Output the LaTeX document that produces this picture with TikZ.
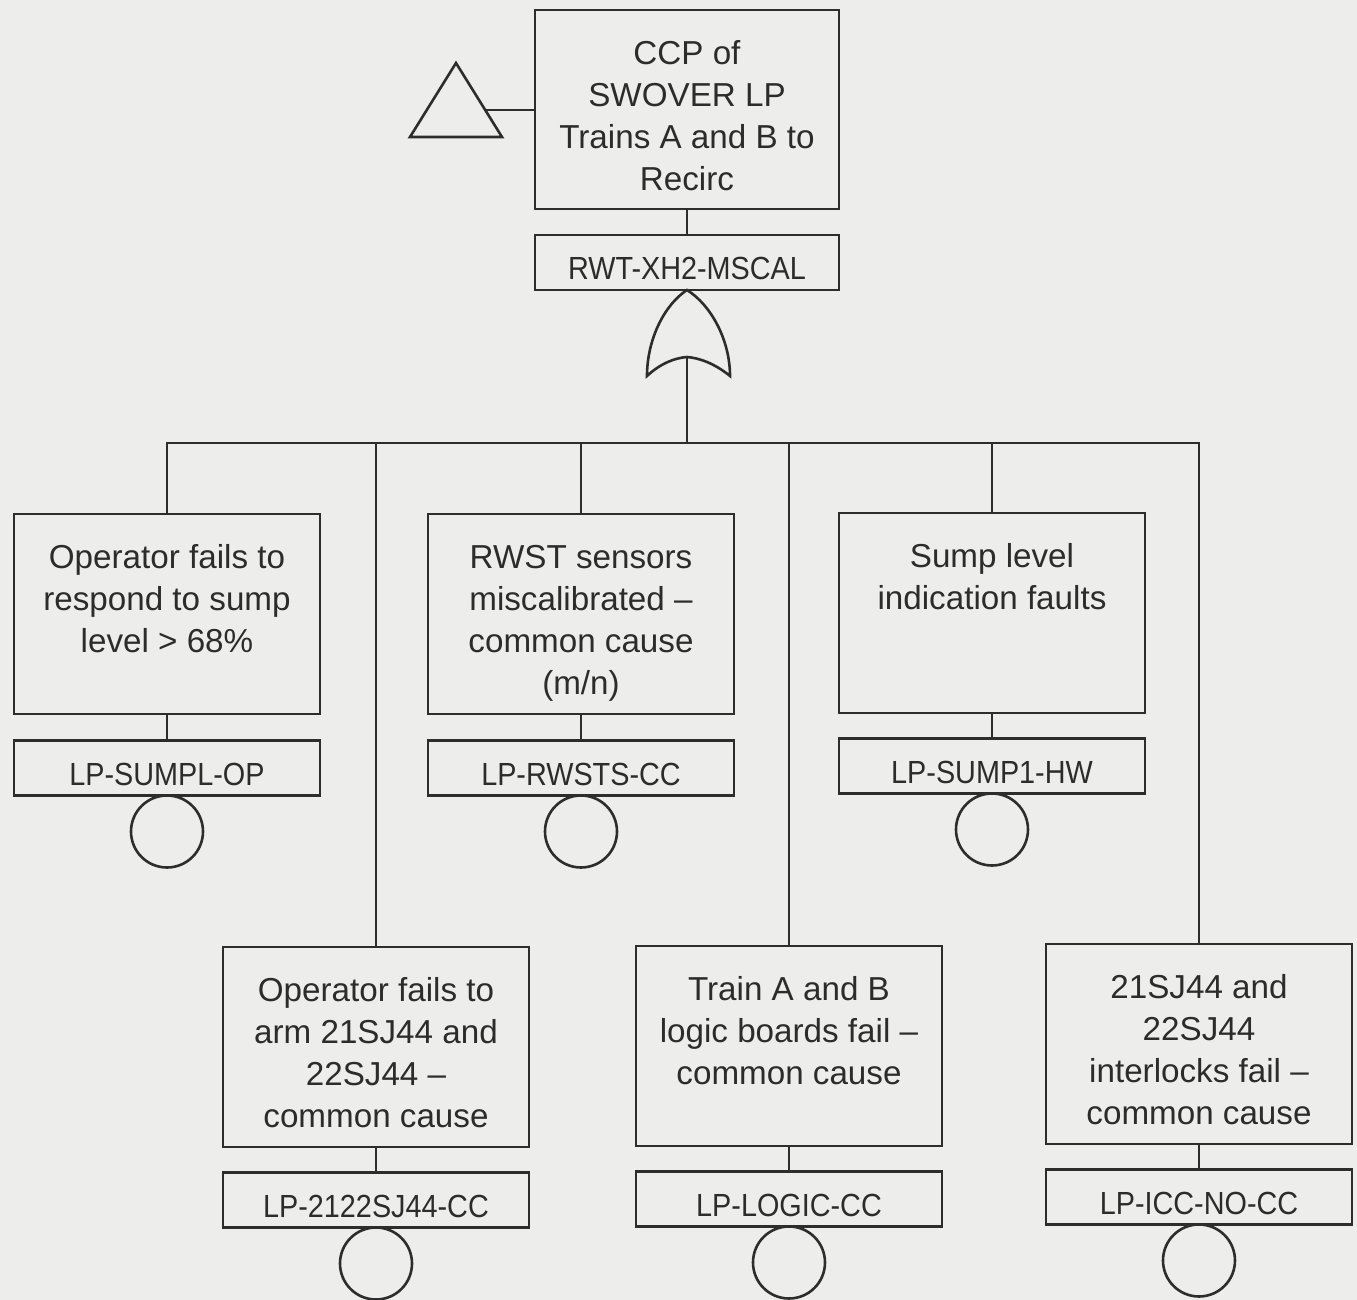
\documentclass[tikz,border=0pt]{standalone}
\usepackage{fontspec}
\setmainfont{Liberation Sans}
\newfontfamily\tagfam[FakeStretch=0.9]{Liberation Sans}
\definecolor{paper}{RGB}{237,237,235}
\definecolor{ink}{RGB}{45,45,45}
\definecolor{txt}{RGB}{44,44,44}
\newcommand\evfont{\fontsize{16.6pt}{21pt}\selectfont}
\newcommand\tagfont{\tagfam\fontsize{16pt}{19pt}\selectfont}
\newcommand\evstrut{\rule{0pt}{14pt}}
\tikzset{
  ln/.style={draw=ink, line width=1.3pt},
  evbox/.style={draw=ink, line width=1.3pt, minimum width=153pt, minimum height=100pt,
    inner sep=0pt, outer sep=0pt},
  tagbox/.style={draw=ink, line width=1.3pt, minimum width=153pt, minimum height=27.5pt,
    inner sep=0pt, outer sep=0pt, text height=17.5pt, text depth=0pt, font=\tagfont, text=txt},
  evtext/.style={anchor=north, inner sep=0pt, align=center, font=\evfont, text=txt, yshift=-13pt},
  basic/.style={circle, draw=ink, line width=1.3pt, minimum size=36pt, inner sep=0pt,
    outer sep=0pt, anchor=north},
}
\begin{document}
\begin{tikzpicture}[x=0.5pt, y=-0.5pt]
  % paper
  \fill[paper] (0,0) rectangle (1357,1300);
  \useasboundingbox (0,0) rectangle (1357,1300);

  % top event
  \node[evbox, minimum width=152pt, minimum height=99.5pt] (top) at (687,109.5) {};
  \node[evtext] (topt) at (top.north) {\evstrut CCP of\\SWOVER LP\\Trains A and B to\\Recirc};
  \node[tagbox, minimum width=152pt] (toptag) at (687,262.5) {RWT-XH2-MSCAL};
  \draw[ln] (top.south) -- (toptag.north);

  % transfer triangle
  \draw[ln, line join=miter] (456,63) -- (502,137) -- (410,137) -- cycle;
  \coordinate (tri) at (485,110);
  \draw[ln] (tri) -- (tri -| top.west);

  % OR gate
  \coordinate (gtop) at (toptag.south);
  \draw[ln, line join=miter] (gtop) .. controls (664,305) and (647,340) .. (647,376)
     .. controls (661,363) and (675,358) .. (687,357) coordinate (gin)
     .. controls (699,358) and (714,363) .. (730,376)
     .. controls (730,340) and (711,305) .. (gtop) -- cycle;
  \coordinate (bus) at (687,443);
  \draw[ln] (gin) -- (bus);

  % first row of basic events
  \node[evbox] (e1) at (167,614) {};
  \node[evtext] (e1t) at (e1.north) {\evstrut Operator fails to\\respond to sump\\level > 68\%};
  \node[tagbox] (e1tag) at (167,768) {LP-SUMPL-OP};
  \node[basic] (e1c) at (e1tag.south) {};

  \node[evbox] (e2) at (581,614) {};
  \node[evtext] (e2t) at (e2.north) {\evstrut RWST sensors\\miscalibrated --\\common cause\\(m/n)};
  \node[tagbox] (e2tag) at (581,768) {LP-RWSTS-CC};
  \node[basic] (e2c) at (e2tag.south) {};

  \node[evbox] (e3) at (992,613) {};
  \node[evtext] (e3t) at (e3.north) {\evstrut Sump level\\indication faults};
  \node[tagbox] (e3tag) at (992,766) {LP-SUMP1-HW};
  \node[basic] (e3c) at (e3tag.south) {};

  % second row of basic events
  \node[evbox] (e4) at (376,1047) {};
  \node[evtext] (e4t) at (e4.north) {\evstrut Operator fails to\\arm 21SJ44 and\\22SJ44 --\\common cause};
  \node[tagbox] (e4tag) at (376,1200) {LP-2122SJ44-CC};
  \node[basic] (e4c) at (e4tag.south) {};

  \node[evbox] (e5) at (789,1046) {};
  \node[evtext] (e5t) at (e5.north) {\evstrut Train A and B\\logic boards fail --\\common cause};
  \node[tagbox] (e5tag) at (789,1199) {LP-LOGIC-CC};
  \node[basic] (e5c) at (e5tag.south) {};

  \node[evbox] (e6) at (1199,1044) {};
  \node[evtext] (e6t) at (e6.north) {\evstrut 21SJ44 and\\22SJ44\\interlocks fail --\\common cause};
  \node[tagbox] (e6tag) at (1199,1197) {LP-ICC-NO-CC};
  \node[basic] (e6c) at (e6tag.south) {};

  % event to tag links
  \foreach \k in {1,...,6} {
    \draw[ln] (e\k.south) -- (e\k tag.north);
  }

  % bus from the OR gate to all inputs
  \draw[ln] (e1.north) -- (e1.north |- bus) -- (e6.north |- bus) -- (e6.north);
  \foreach \k in {2,3,4,5} {
    \draw[ln] (e\k.north) -- (e\k.north |- bus);
  }
\end{tikzpicture}
\end{document}
